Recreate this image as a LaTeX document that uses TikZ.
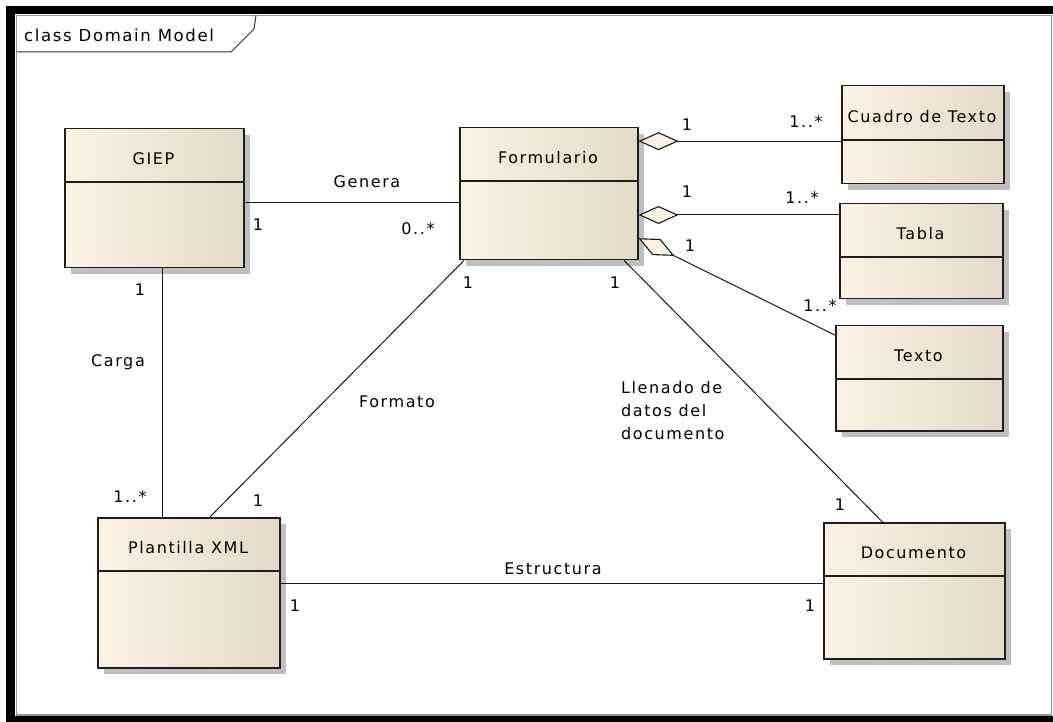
\documentclass[tikz,border=0pt]{standalone}
\usepackage{fontspec}
\setmainfont{DejaVu Sans}[LetterSpace=10]
\usetikzlibrary{calc,shadows,arrows.meta}

\definecolor{boxleft}{RGB}{251,242,228}
\definecolor{boxright}{RGB}{228,218,201}
\definecolor{boxline}{RGB}{30,30,30}
\definecolor{diamfill}{RGB}{251,242,228}
\definecolor{framegray}{RGB}{150,150,150}

% one UML class: name, left, top, right, bottom, divider, title
\newcommand\umlclass[7]{%
  \node[classbox,anchor=north west,
        minimum width={(#4-#2)*1pt},minimum height={(#5-#3)*1pt}] (#1) at (#2,#3) {};
  \draw[divider] (#2,#6) -- (#4,#6);
  \node[classname] (#1-name) at ({(#2+#4)/2},{(#3+#6)/2+4}) {#7};
}

\begin{document}
\begin{tikzpicture}[x=1pt,y=-1pt,
  font=\fontsize{16}{23}\selectfont,
  classbox/.style={draw=boxline,line width=1.5pt,inner sep=0pt,
    left color=boxleft,middle color=boxleft!85!boxright,right color=boxright,
    general shadow={fill=black!25,shadow xshift=6pt,shadow yshift=-6pt}},
  divider/.style={draw=boxline,line width=1.5pt},
  classname/.style={inner sep=0pt,text=black},
  lbl/.style={inner sep=0pt,text=black},
  assoc/.style={draw=black!90,line width=1pt},
  agg/.style={assoc,arrows={Diamond[length=40pt,width=18pt,fill=diamfill,line width=1.1pt]-}}]

\useasboundingbox (0,0) rectangle (1053,722);

% page frame
\fill[white] (0,0) rectangle (1053,722);
\fill[black] (6,6) rectangle (1053,722);
\fill[white] (15,14) rectangle (1053,716);
\draw[framegray,line width=1.2pt] (16.5,15.5) -- (1051.5,15.5) -- (1051.5,715) -- (16.5,715) -- cycle;
\draw[black!80,line width=1pt] (16.5,52) -- (231,52) -- (254,29) -- (256,15.5);
\node[lbl,anchor=west,font=\fontsize{16.5}{20}\selectfont] (title) at (24,35) {class Domain Model};

% classes
\umlclass{giep}{64}{128}{243}{267}{182}{GIEP}
\umlclass{form}{459}{127}{637}{259}{181}{Formulario}
\umlclass{cuadro}{841}{85}{1003}{183}{140}{Cuadro de Texto}
\umlclass{tabla}{839}{203}{1002}{298}{257}{Tabla}
\umlclass{texto}{835}{325}{1002}{430}{379}{Texto}
\umlclass{plant}{97}{517}{279}{667}{571}{Plantilla XML}
\umlclass{doc}{823}{522}{1004}{658}{576}{Documento}

% associations
\coordinate (genY) at (0,203);
\draw[assoc] (giep.east |- genY) -- (form.west |- genY);
\coordinate (cargaX) at (162,0);
\draw[assoc] (giep.south -| cargaX) -- (plant.north -| cargaX);
\draw[assoc] ($(form.south west)!0.028!(form.south east)$) -- ($(plant.north west)!0.615!(plant.north east)$);
\draw[assoc] ($(form.south west)!0.92!(form.south east)$) -- ($(doc.north west)!0.326!(doc.north east)$);
\coordinate (estY) at (0,583);
\draw[assoc] (plant.east |- estY) -- (doc.west |- estY);

% aggregations
\coordinate (cuadroA) at ($(form.north east)!0.106!(form.south east)$);
\draw[agg] (cuadroA) -- (cuadro.west |- cuadroA);
\coordinate (tablaA) at ($(form.north east)!0.659!(form.south east)$);
\draw[agg] (tablaA) -- (tabla.west |- tablaA);
\draw[agg] ($(form.north east)!0.833!(form.south east)$) -- ($(texto.north west)!0.095!(texto.south west)$);

% role names and multiplicities
\node[lbl] (genera) at (367,182) {Genera};
\node[lbl] (m-gf1) at (258,225) {1};
\node[lbl] (m-gf2) at (418,229) {0..*};
\node[lbl] (m-gp1) at (140,290) {1};
\node[lbl] (carga) at (118,362) {Carga};
\node[lbl] (m-gp2) at (130,497) {1..*};
\node[lbl] (formato) at (397,402) {Formato};
\node[lbl] (m-fp1) at (468,283) {1};
\node[lbl] (m-fp2) at (258,501) {1};
\node[lbl] (m-fd1) at (615,283) {1};
\node[lbl] (m-fd2) at (840,505) {1};
\node[lbl,anchor=north west,align=left] (llenado) at (621,381) {Llenado de\\datos del\\documento};
\node[lbl] (estructura) at (553,569) {Estructura};
\node[lbl] (m-pd1) at (295,606) {1};
\node[lbl] (m-pd2) at (810,606) {1};
\node[lbl] (m-fc1) at (687,125) {1};
\node[lbl] (m-fc2) at (806,122) {1..*};
\node[lbl] (m-ft1) at (687,192) {1};
\node[lbl] (m-ft2) at (802,198) {1..*};
\node[lbl] (m-fx1) at (690,246) {1};
\node[lbl] (m-fx2) at (820,306) {1..*};

\end{tikzpicture}
\end{document}
